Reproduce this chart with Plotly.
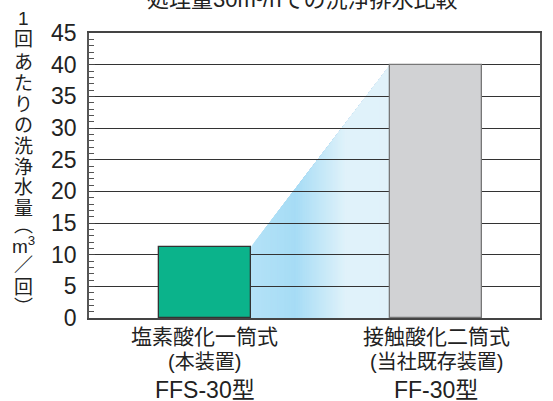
import plotly.graph_objects as go

# ---- data ----
cat_line1 = ["塩素酸化一筒式", "接触酸化二筒式"]
cat_line2 = ["(本装置)", "(当社既存装置)"]
models = ["FFS-30型", "FF-30型"]
values = [11.2, 40]
bar_colors = ["#0bb38b", "#d1d2d4"]
bar_lines = ["#333333", "#777777"]
title_text = "処理量30m³/hでの洗浄排水比較"
ylabel_chars = ["1", "回", "あ", "た", "り", "の", "洗", "浄", "水", "量", "︵", "m<sup>3</sup>", "／", "回", "︶"]
y_ticks = [0, 5, 10, 15, 20, 25, 30, 35, 40, 45]

W, H = 553, 401
ml, mr, mt, mb = 89, 13, 33, 83
ph = H - mt - mb
pw = W - ml - mr

xpos = [0, 1]
bw = 0.397
FONT = "Liberation Sans, Noto Sans CJK JP, sans-serif"

fig = go.Figure()
fig.add_trace(go.Bar(
    x=xpos, y=values, width=bw,
    marker=dict(color=bar_colors, line=dict(color=bar_lines, width=1.3)),
    hoverinfo="skip", showlegend=False,
))

# gradient wedge between bars (decorative), built from the bar values
x0r = xpos[0] + bw / 2
x1l = xpos[1] - bw / 2
stops = [(0.0, (180, 226, 247)), (0.32, (166, 220, 245)), (0.68, (224, 242, 250)), (1.0, (224, 242, 250))]

def col(t):
    for (t0, c0), (t1, c1) in zip(stops[:-1], stops[1:]):
        if t <= t1:
            f = (t - t0) / (t1 - t0) if t1 > t0 else 0
            return "rgb(%d,%d,%d)" % tuple(round(a + (b - a) * f) for a, b in zip(c0, c1))
    return "rgb(%d,%d,%d)" % stops[-1][1]

N = 80
for i in range(N):
    t = i / N
    xa = x0r + (x1l - x0r) * t
    ya = values[0] + (values[1] - values[0]) * t
    path = f"M {xa},0 L {xa},{ya} L {x1l},{values[1]} L {x1l},0 Z"
    fig.add_shape(type="path", path=path, xref="x", yref="y",
                  fillcolor=col(t + 0.5 / N), line=dict(width=0), layer="below")

def py(p):
    return (H - mb - p) / ph

def px(p):
    return (p - ml) / pw

ann = []
# title (clipped at the top edge)
ann.append(dict(text=title_text, xref="paper", yref="paper",
                x=px(302), y=py(-1), xanchor="center", yanchor="middle",
                showarrow=False, font=dict(size=22, color="#222", family=FONT)))
# vertical y label
ypix = [18, 40, 62, 83, 104, 125, 146, 167, 187, 208, 225, 245, 265, 287, 307]
for ch, yp in zip(ylabel_chars, ypix):
    ann.append(dict(text=ch, xref="paper", yref="paper",
                    x=px(23), y=py(yp), xanchor="center", yanchor="middle",
                    showarrow=False, font=dict(size=19, color="#222", family=FONT)))
# category labels
for xv, l1, l2, m in zip(xpos, cat_line1, cat_line2, models):
    for txt, yp, fs in [(l1, 336, 21), (l2, 362, 20), (m, 390, 23)]:
        ann.append(dict(text=txt, xref="x", yref="paper", x=xv, y=py(yp),
                        xanchor="center", yanchor="middle", showarrow=False,
                        font=dict(size=fs, color="#222", family=FONT)))

fig.update_layout(
    width=W, height=H,
    margin=dict(l=ml, r=mr, t=mt, b=mb, pad=0, autoexpand=False),
    paper_bgcolor="white", plot_bgcolor="white",
    annotations=ann,
    xaxis=dict(range=[-0.501, 1.448], showticklabels=False, ticks="", showgrid=False,
               zeroline=False, showline=True, linecolor="#444", linewidth=1.5, mirror=True,
               automargin=False, fixedrange=True),
    yaxis=dict(range=[0, 45], tickvals=y_ticks, ticks="inside", ticklen=6, tickcolor="#444",
               tickwidth=1, showgrid=True, gridcolor="#333", gridwidth=1.2, zeroline=False,
               showline=True, linecolor="#555", linewidth=1.5, mirror=True,
               tickfont=dict(size=23, color="#222", family=FONT), ticklabelstandoff=6,
               minor=dict(dtick=1, ticks="inside", ticklen=5, tickcolor="#555", showgrid=False),
               automargin=False, fixedrange=True),
    bargap=0,
)
fig.write_html("out.html", config={"displayModeBar": False},
               post_script="document.body.style.margin='0';document.body.style.overflow='hidden';")
